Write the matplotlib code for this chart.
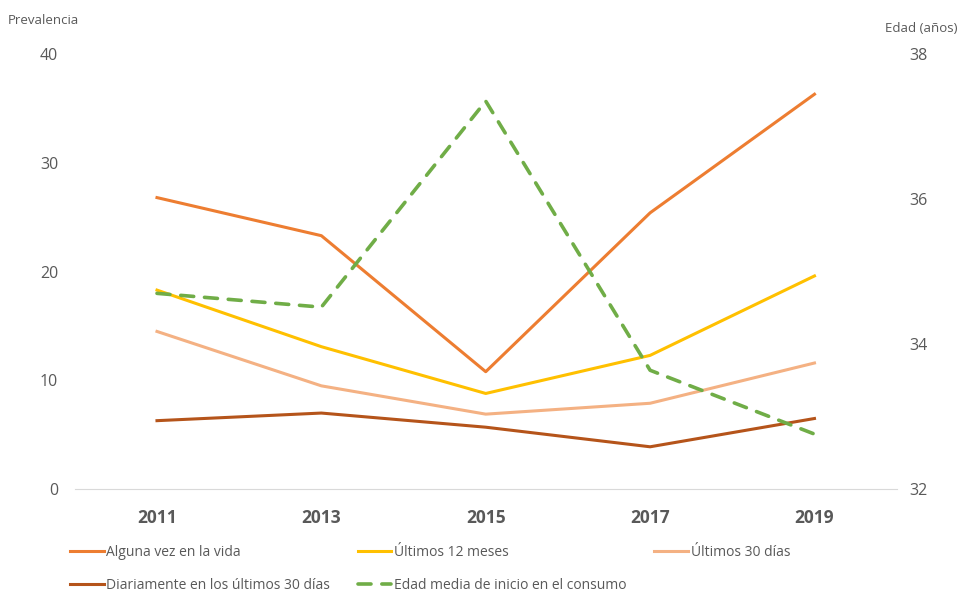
import matplotlib.pyplot as plt
import numpy as np

plt.rcParams['font.family'] = ['Open Sans', 'DejaVu Sans']

# datos
anios = ['2011', '2013', '2015', '2017', '2019']
alguna_vez = [26.8, 23.3, 10.8, 25.4, 36.3]
ultimos_12 = [18.3, 13.1, 8.8, 12.3, 19.6]
ultimos_30 = [14.5, 9.5, 6.9, 7.9, 11.6]
diariamente = [6.3, 7.0, 5.7, 3.9, 6.5]
edad_media = [34.70, 34.51, 37.35, 33.64, 32.76]

gris = '#595959'

fig = plt.figure(figsize=(9.59, 5.93), dpi=100)
ax = fig.add_axes([0.078, 0.175, 0.857, 0.734])
ax2 = ax.twinx()

x = np.arange(len(anios))
l1, = ax.plot(x, alguna_vez, color='#ED7D31', lw=2.2, label='Alguna vez en la vida')
l2, = ax.plot(x, ultimos_12, color='#FFC000', lw=2.2, label='Últimos 12 meses')
l3, = ax.plot(x, ultimos_30, color='#F4B183', lw=2.2, label='Últimos 30 días')
l4, = ax.plot(x, diariamente, color='#B5541A', lw=2.2, label='Diariamente en los últimos 30 días')
l5, = ax2.plot(x, edad_media, color='#70AD47', lw=2.6, ls=(0, (3.6, 3.0)),
               dash_capstyle='round', label='Edad media de inicio en el consumo')

ax.set_xlim(-0.5, len(anios) - 0.5)
ax.set_ylim(0, 40)
ax2.set_ylim(32, 38)
ax.set_yticks([0, 10, 20, 30, 40])
ax2.set_yticks([32, 34, 36, 38])
ax.set_xticks(x)

for a in (ax, ax2):
    for s in a.spines.values():
        s.set_visible(False)
    a.tick_params(length=0, labelsize=11.5, labelcolor=gris)
ax.spines['bottom'].set_visible(True)
ax.spines['bottom'].set_color('#D9D9D9')
ax.tick_params(axis='y', pad=12)
ax2.tick_params(axis='y', pad=9)
ax.tick_params(axis='x', pad=14)
ax.set_xticklabels(anios, fontweight='bold', fontsize=12.5, color=gris)

fig.text(0.008, 0.965, 'Prevalencia', fontsize=9.5, color=gris, va='center')
fig.text(0.998, 0.952, 'Edad (años)', fontsize=9.5, color=gris, va='center', ha='right')

fig.legend([l1, l4, l2, l5, l3],
           [h.get_label() for h in [l1, l4, l2, l5, l3]],
           ncol=3, loc='lower left', bbox_to_anchor=(0.066, -0.012),
           frameon=False, fontsize=10, labelcolor=gris, borderpad=0,
           handlelength=2.4, handletextpad=0.2, columnspacing=2.0, labelspacing=1.3)

fig.savefig('out.png', dpi=100)
